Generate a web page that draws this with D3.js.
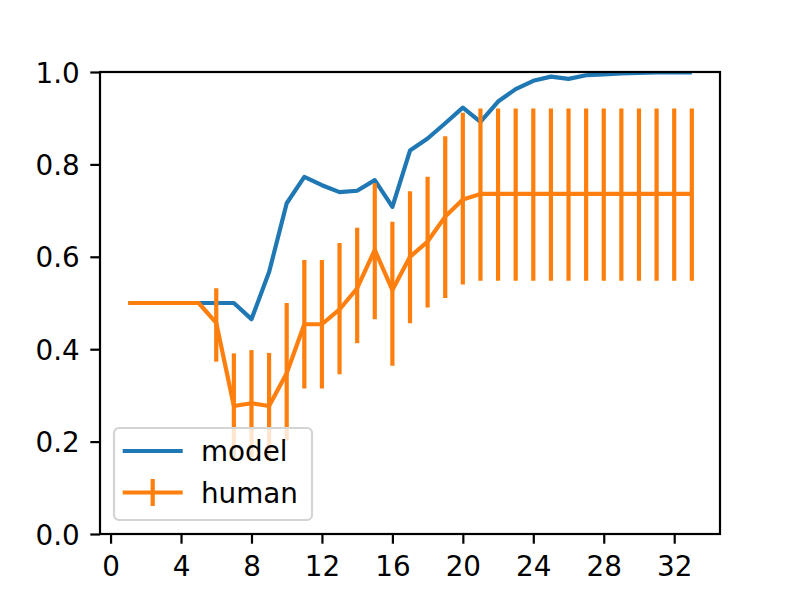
<!DOCTYPE html>
<html>
<head>
<meta charset="utf-8">
<script src="https://cdn.jsdelivr.net/npm/d3@7"></script>
<style>
  body { margin: 0; background: #fff; }
  text { font-family: "DejaVu Sans", sans-serif; fill: #000; }
</style>
</head>
<body>
<div id="chart"></div>
<script>
// trial index 1..33
const steps = d3.range(1, 34);

// model prediction per step
const modelValues = [0.5, 0.5, 0.5, 0.5, 0.5, 0.5, 0.5, 0.465, 0.567, 0.716,
    0.773, 0.755, 0.740, 0.743, 0.766, 0.708, 0.830, 0.856, 0.889, 0.923,
    0.892, 0.936, 0.963, 0.981, 0.990, 0.985, 0.993, 0.995, 0.997, 0.998,
    0.999, 0.999, 0.999];

// human mean and the ends of its error bars
const humanMean = [0.5, 0.5, 0.5, 0.5, 0.5, 0.457, 0.277, 0.283, 0.277, 0.348,
    0.454, 0.454, 0.486, 0.532, 0.615, 0.528, 0.600, 0.633, 0.687, 0.724,
    0.736, 0.736, 0.736, 0.736, 0.736, 0.736, 0.736, 0.736, 0.736, 0.736,
    0.736, 0.736, 0.736];
const humanLow = [0.5, 0.5, 0.5, 0.5, 0.5, 0.373, 0.162, 0.166, 0.162, 0.202,
    0.315, 0.315, 0.346, 0.413, 0.465, 0.364, 0.456, 0.490, 0.511, 0.540,
    0.548, 0.548, 0.548, 0.548, 0.548, 0.548, 0.548, 0.548, 0.548, 0.548,
    0.548, 0.548, 0.548];
const humanHigh = [0.5, 0.5, 0.5, 0.5, 0.5, 0.532, 0.391, 0.398, 0.392, 0.500,
    0.593, 0.593, 0.630, 0.663, 0.759, 0.676, 0.742, 0.773, 0.861, 0.912,
    0.921, 0.921, 0.921, 0.921, 0.921, 0.921, 0.921, 0.921, 0.921, 0.921,
    0.921, 0.921, 0.921];

const xTicks = [0, 4, 8, 12, 16, 20, 24, 28, 32];
const yTicks = [0, 0.2, 0.4, 0.6, 0.8, 1.0];
const seriesNames = ['model', 'human'];

const blue = '#1f77b4';
const orange = '#ff7f0e';
const fontSize = 27.8;

const margin = { top: 72, right: 80, bottom: 66, left: 100 };
const width = 800 - margin.left - margin.right;
const height = 600 - margin.top - margin.bottom;

const svg = d3.select('#chart')
    .append('svg')
    .attr('width', 800)
    .attr('height', 600);

const plot = svg.append('g')
    .attr('transform', `translate(${margin.left},${margin.top})`);

// matplotlib style 5% padding on x
const pad = (33 - 1) * 0.05;
const x = d3.scaleLinear().domain([1 - pad, 33 + pad]).range([0, width]);
const y = d3.scaleLinear().domain([0, 1]).range([height, 0]);

plot.append('clipPath').attr('id', 'clip')
    .append('rect').attr('width', width).attr('height', height);

const lines = plot.append('g').attr('clip-path', 'url(#clip)');

const lineGen = d3.line()
    .x((d) => x(d[0]))
    .y((d) => y(d[1]));

lines.append('path')
    .datum(steps.map((s, i) => [s, modelValues[i]]))
    .attr('d', lineGen)
    .attr('fill', 'none')
    .attr('stroke', blue)
    .attr('stroke-width', 4.2)
    .attr('stroke-linejoin', 'round');

lines.append('path')
    .datum(steps.map((s, i) => [s, humanMean[i]]))
    .attr('d', lineGen)
    .attr('fill', 'none')
    .attr('stroke', orange)
    .attr('stroke-width', 4.2)
    .attr('stroke-linejoin', 'round');

lines.selectAll('.err')
    .data(steps.map((s, i) => ({ s, lo: humanLow[i], hi: humanHigh[i] })))
    .join('line')
    .attr('class', 'err')
    .attr('x1', (d) => x(d.s))
    .attr('x2', (d) => x(d.s))
    .attr('y1', (d) => y(d.lo))
    .attr('y2', (d) => y(d.hi))
    .attr('stroke', orange)
    .attr('stroke-width', 4.2);

// axes
const xAxis = plot.append('g')
    .attr('transform', `translate(0,${height})`)
    .call(d3.axisBottom(x).tickValues(xTicks).tickSize(9.7).tickPadding(6).tickFormat(d3.format('d')));
const yAxis = plot.append('g')
    .call(d3.axisLeft(y).tickValues(yTicks).tickSize(9.7).tickPadding(10.5).tickFormat(d3.format('.1f')));

[xAxis, yAxis].forEach((a) => {
    a.select('.domain').remove();
    a.selectAll('line').attr('stroke', '#000').attr('stroke-width', 2.2);
    a.selectAll('text').attr('font-size', fontSize).attr('font-family', 'DejaVu Sans').attr('fill', '#000');
});
xAxis.selectAll('text').attr('dy', '0.93em');
yAxis.selectAll('text').attr('dy', '0.36em');

plot.append('rect')
    .attr('width', width)
    .attr('height', height)
    .attr('fill', 'none')
    .attr('stroke', '#000')
    .attr('stroke-width', 2.2);

// legend
const legend = plot.append('g')
    .attr('transform', `translate(${114 - margin.left},${428 - margin.top})`);

legend.append('rect')
    .attr('width', 198)
    .attr('height', 92)
    .attr('rx', 5)
    .attr('fill', '#fff')
    .attr('fill-opacity', 0.8)
    .attr('stroke', '#d4d4d4')
    .attr('stroke-width', 2.2);

const items = legend.selectAll('.item')
    .data(seriesNames)
    .join('g')
    .attr('class', 'item')
    .attr('transform', (d, i) => `translate(0,${23 + i * 41.5})`);

items.append('line')
    .attr('x1', 8.7).attr('x2', 68.7)
    .attr('stroke', (d, i) => (i === 0 ? blue : orange))
    .attr('stroke-width', 4.2);

items.filter((d, i) => i === 1)
    .append('line')
    .attr('x1', 38.7).attr('x2', 38.7)
    .attr('y1', -13.5).attr('y2', 13.5)
    .attr('stroke', orange)
    .attr('stroke-width', 4.2);

items.append('text')
    .attr('x', 87)
    .attr('y', 10)
    .attr('font-size', fontSize)
    .text((d) => d);
</script>
</body>
</html>
